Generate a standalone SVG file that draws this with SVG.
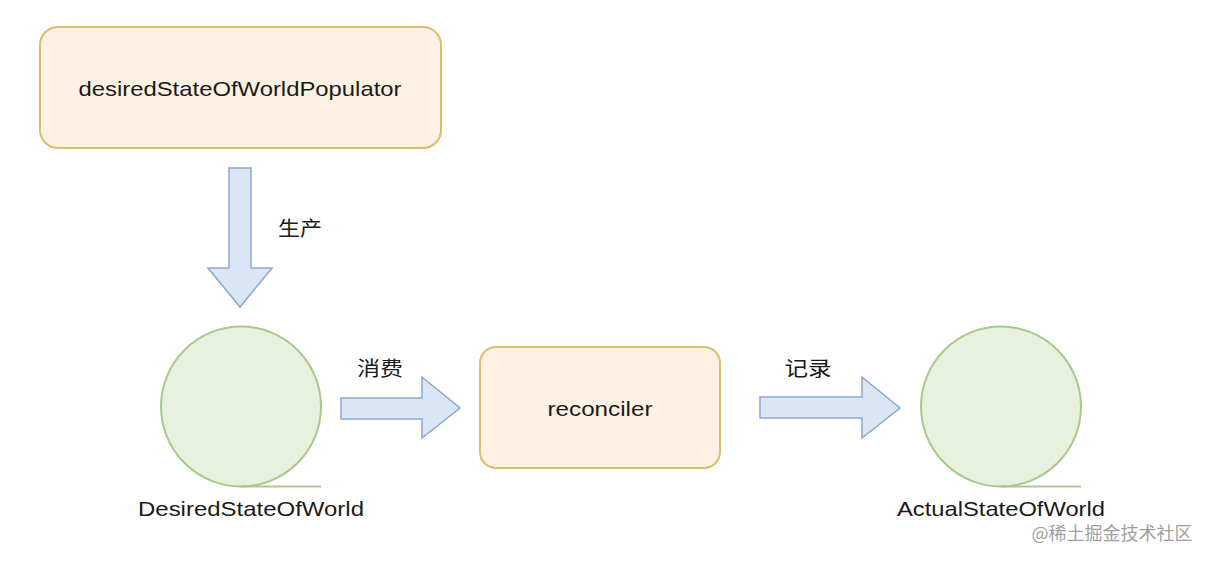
<svg xmlns="http://www.w3.org/2000/svg" width="1210" height="562" viewBox="0 0 1210 562">
<style>
.box{fill:#fdf1e3;stroke:#dcbc6e;stroke-width:2}
.circ{fill:#e7f1dd;stroke:#a9c98c;stroke-width:2}
.arr{fill:#dae5f6;stroke:#8ea6d2;stroke-width:1.5;stroke-linejoin:miter}
.t{font-family:"Liberation Sans",Arial,sans-serif;font-size:21px;fill:#1a1a1a;text-anchor:middle}
.cn{font-family:"Noto Sans CJK SC","Liberation Sans",sans-serif;font-size:20px;fill:#1a1a1a;text-anchor:middle}
.wm{font-family:"Noto Sans CJK SC",sans-serif;font-size:18px;fill:#a0a0a0;text-anchor:middle}
</style>
<rect width="1210" height="562" fill="#ffffff"/>
<g id="populator">
<rect class="box" x="40" y="27" width="401" height="121" rx="18"/>
<text class="t" x="240" y="96" textLength="323" lengthAdjust="spacingAndGlyphs">desiredStateOfWorldPopulator</text>
</g>
<g id="desiredStateOfWorld">
<circle class="circ" cx="241" cy="406.5" r="80"/>
<line x1="241" y1="486.5" x2="321" y2="486.5" stroke="#a9c98c" stroke-width="2"/>
<text class="t" x="251" y="516" textLength="226" lengthAdjust="spacingAndGlyphs">DesiredStateOfWorld</text>
</g>
<g id="reconciler">
<rect class="box" x="480" y="347" width="240" height="121" rx="16"/>
<text class="t" x="600" y="416" textLength="105" lengthAdjust="spacingAndGlyphs">reconciler</text>
</g>
<g id="actualStateOfWorld">
<circle class="circ" cx="1001" cy="406.5" r="80"/>
<line x1="1001" y1="486.5" x2="1081" y2="486.5" stroke="#a9c98c" stroke-width="2"/>
<text class="t" x="1001" y="516" textLength="208" lengthAdjust="spacingAndGlyphs">ActualStateOfWorld</text>
</g>
<g id="connectors">
<polygon class="arr" points="229,168 251,168 251,268 272,268 240,307 208,268 229,268"/>
<text class="cn" x="300" y="236" textLength="44" lengthAdjust="spacingAndGlyphs">生产</text>
<polygon class="arr" points="341,398 422,398 422,377 460,408 422,438 422,419 341,419"/>
<text class="cn" x="380" y="376" textLength="46" lengthAdjust="spacingAndGlyphs">消费</text>
<polygon class="arr" points="760,397 862,397 862,377 900,408 862,438 862,418 760,418"/>
<text class="cn" x="808" y="376" textLength="47" lengthAdjust="spacingAndGlyphs">记录</text>
</g>
<text class="wm" x="1112" y="540">@稀土掘金技术社区</text>
</svg>
